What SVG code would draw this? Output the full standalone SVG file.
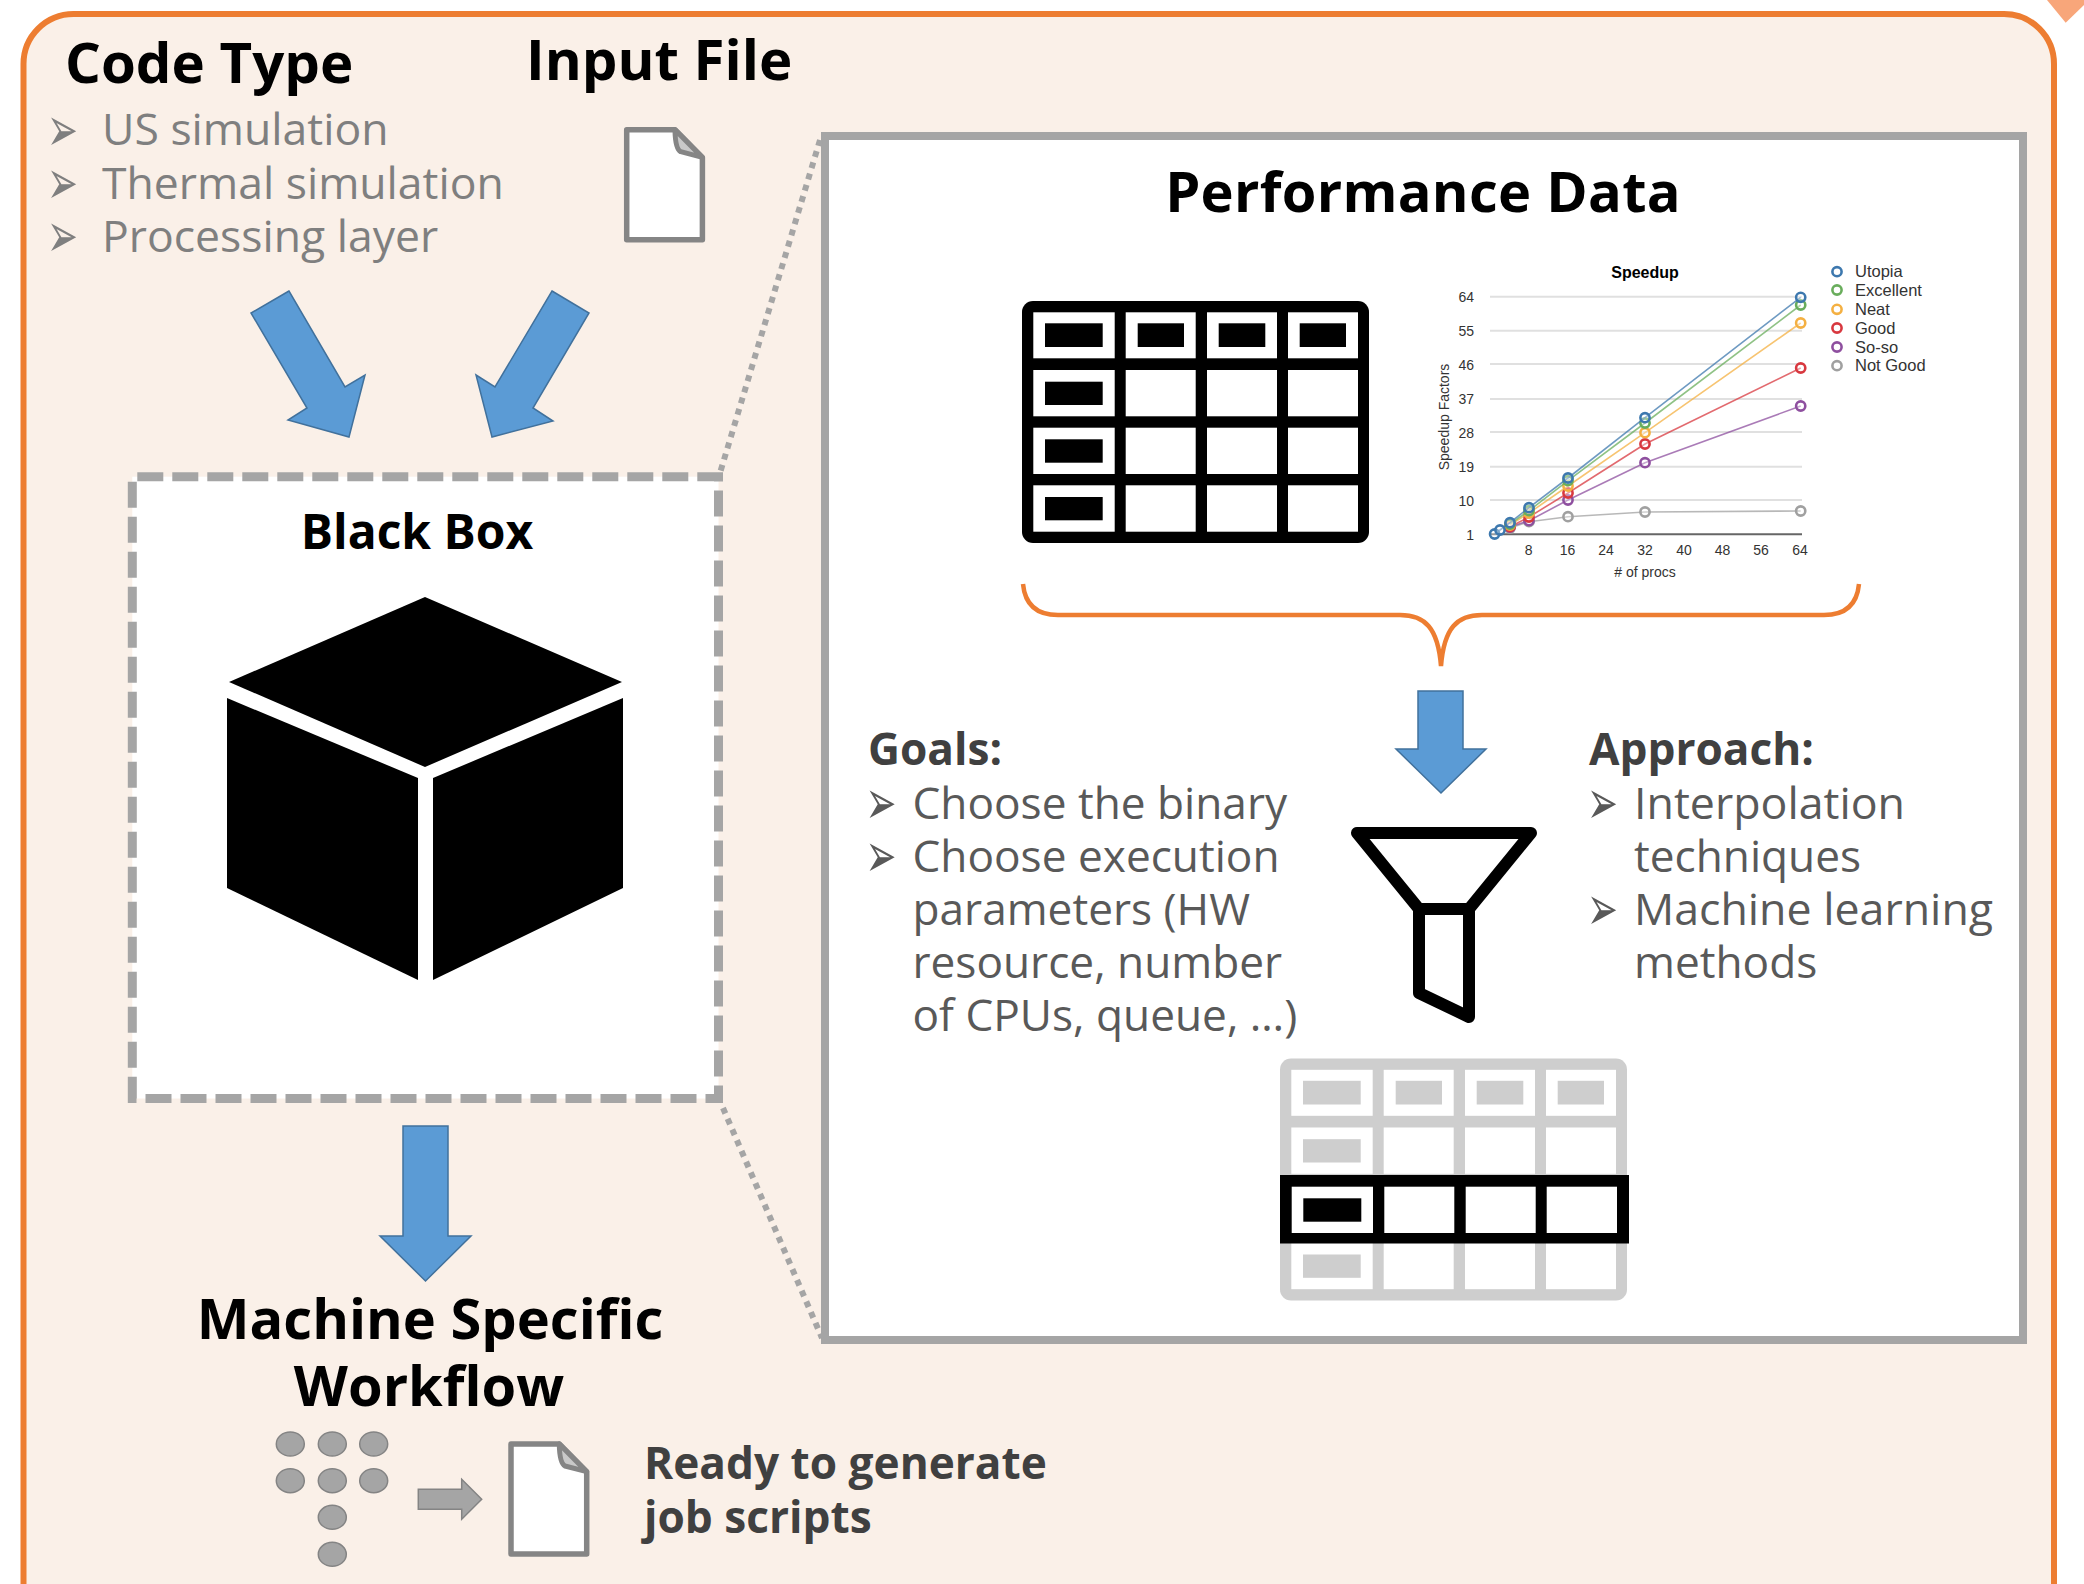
<svg xmlns="http://www.w3.org/2000/svg" xmlns:xlink="http://www.w3.org/1999/xlink" width="2084" height="1584" viewBox="0 0 2084 1584">
<style>
text{font-family:"Open Sans","Liberation Sans",sans-serif}
.h{font-weight:700;fill:#000}
.b{font-weight:700;fill:#404040;font-size:44.2px}
.g{fill:#7f7f7f;font-size:44.5px}
.d{fill:#595959;font-size:44.7px}
.e{fill:#595959;font-size:44.2px}
.bul{font-family:"DejaVu Sans",sans-serif;font-size:37px}
.arrow{fill:#5b9bd5;stroke:#41719c;stroke-width:1.5}
.dot{fill:none;stroke:#a5a5a5;stroke-width:6;stroke-dasharray:6 5.7}
.c text{font-family:"Liberation Sans",Arial,sans-serif;fill:#333}
.grid{stroke:#e0e0e0;stroke-width:2}
.ser{fill:none;stroke-width:1.6;stroke-opacity:.75}
.pt{fill:#fff;fill-opacity:.35;stroke-width:2.6}
</style>
<defs>
<g id="tableCells">
<rect x="1033.3" y="312.3" width="81.4" height="46"/><rect x="1125.7" y="312.3" width="70" height="46"/><rect x="1207" y="312.3" width="70" height="46"/><rect x="1288" y="312.3" width="70" height="46"/>
<rect x="1033.3" y="370" width="81.4" height="46.3"/><rect x="1125.7" y="370" width="70" height="46.3"/><rect x="1207" y="370" width="70" height="46.3"/><rect x="1288" y="370" width="70" height="46.3"/>
<rect x="1033.3" y="427.7" width="81.4" height="46.3"/><rect x="1125.7" y="427.7" width="70" height="46.3"/><rect x="1207" y="427.7" width="70" height="46.3"/><rect x="1288" y="427.7" width="70" height="46.3"/>
<rect x="1033.3" y="485.3" width="81.4" height="46.4"/><rect x="1125.7" y="485.3" width="70" height="46.4"/><rect x="1207" y="485.3" width="70" height="46.4"/><rect x="1288" y="485.3" width="70" height="46.4"/>
</g>
<g id="tableBars">
<rect x="1045" y="323.3" width="57.7" height="23.7"/><rect x="1137.7" y="323.3" width="46.3" height="23.7"/><rect x="1218.7" y="323.3" width="46.6" height="23.7"/><rect x="1299.7" y="323.3" width="46.3" height="23.7"/>
<rect x="1045" y="381.7" width="57.7" height="23.3"/><rect x="1045" y="439.3" width="57.7" height="23.4"/><rect x="1045" y="497" width="57.7" height="23.3"/>
</g>
<g id="fileIcon">
<path d="M511 1444H559.3L586.7 1471.7V1554H511Z" fill="#fff" stroke="#858585" stroke-width="5.5" stroke-linejoin="round"/>
<path d="M559.3 1444Q559.5 1463 565 1466L586.7 1471.7Z" fill="#c9c9c9" stroke="#858585" stroke-width="5" stroke-linejoin="round"/>
</g>
</defs>

<g id="outer-panel">
<rect x="23.5" y="14" width="2030.5" height="1640" rx="50" fill="#faf0e8" stroke="#ed7d31" stroke-width="6"/>
</g>
<polygon id="corner-mark" points="2047,0 2084,0 2084,5 2065.7,22.7" fill="#f8a67a"/>

<g id="code-type">
<text class="h" x="65" y="83" font-size="56.4">Code Type</text>
<text class="bul" transform="translate(47 151) scale(1 1.7)" fill="#7f7f7f">➢</text><text class="g" x="102" y="145">US simulation</text>
<text class="bul" transform="translate(47 204.3) scale(1 1.7)" fill="#7f7f7f">➢</text><text class="g" x="102" y="198.5">Thermal simulation</text>
<text class="bul" transform="translate(47 257) scale(1 1.7)" fill="#7f7f7f">➢</text><text class="g" x="102" y="252">Processing layer</text>
</g>

<g id="input-file">
<text class="h" x="526" y="80" font-size="56.4">Input File</text>
<use xlink:href="#fileIcon" href="#fileIcon" transform="translate(115.7 -1314.3)"/>
</g>

<g id="black-box">
<rect x="132.3" y="476.7" width="586.2" height="621.8" fill="#fff" stroke="#a5a5a5" stroke-width="9" stroke-dasharray="26 9" stroke-dashoffset="30"/>
<text class="h" x="417" y="549" font-size="48" text-anchor="middle">Black Box</text>
<polygon points="425,597 622,682 425,767 229,682" fill="#000"/>
<polygon points="227,698 418,778 418,980 227,888" fill="#000"/>
<polygon points="433,778 623,698 623,888 433,980" fill="#000"/>
</g>

<g id="performance-data">
<rect x="825" y="136" width="1198" height="1204" fill="#fff" stroke="#a5a5a5" stroke-width="8"/>
<text class="h" x="1423" y="212" font-size="56" text-anchor="middle" letter-spacing="0.3">Performance Data</text>
</g>

<g id="table-full">
<rect x="1022" y="301" width="347" height="242" rx="11" fill="#000"/>
<use xlink:href="#tableCells" href="#tableCells" fill="#fff"/>
<use xlink:href="#tableBars" href="#tableBars" fill="#000"/>
</g>

<g id="speedup-chart" class="c">
<line class="grid" x1="1490" y1="296.7" x2="1802" y2="296.7"/><line class="grid" x1="1490" y1="330.7" x2="1802" y2="330.7"/><line class="grid" x1="1490" y1="364" x2="1802" y2="364"/><line class="grid" x1="1490" y1="399" x2="1802" y2="399"/><line class="grid" x1="1490" y1="432" x2="1802" y2="432"/><line class="grid" x1="1490" y1="466.7" x2="1802" y2="466.7"/><line class="grid" x1="1490" y1="500" x2="1802" y2="500"/>
<line x1="1490" y1="534.3" x2="1802" y2="534.3" stroke="#666" stroke-width="2"/>
<text x="1645" y="278" font-size="16" font-weight="700" text-anchor="middle" style="fill:#000">Speedup</text>
<g font-size="14" text-anchor="end">
<text x="1474" y="302">64</text><text x="1474" y="336">55</text><text x="1474" y="370">46</text><text x="1474" y="404">37</text><text x="1474" y="438">28</text><text x="1474" y="472">19</text><text x="1474" y="506">10</text><text x="1474" y="540">1</text>
</g>
<g font-size="14" text-anchor="middle">
<text x="1528.6" y="555">8</text><text x="1567.5" y="555">16</text><text x="1606" y="555">24</text><text x="1645" y="555">32</text><text x="1684" y="555">40</text><text x="1722.5" y="555">48</text><text x="1761" y="555">56</text><text x="1800" y="555">64</text>
<text x="1645" y="577">&#35; of procs</text>
<text transform="translate(1449 417) rotate(-90)">Speedup Factors</text>
</g>
<g stroke="#a0a0a0"><polyline class="ser" points="1510,528 1529,521.7 1568,516.7 1645,512 1800.7,511"/><circle class="pt" cx="1510" cy="528" r="4.6"/><circle class="pt" cx="1529" cy="521.7" r="4.6"/><circle class="pt" cx="1568" cy="516.7" r="4.6"/><circle class="pt" cx="1645" cy="512" r="4.6"/><circle class="pt" cx="1800.7" cy="511" r="4.6"/></g>
<g stroke="#8e4f9f"><polyline class="ser" points="1510,527 1529,520.7 1568,500 1645,462.7 1800.7,406"/><circle class="pt" cx="1510" cy="527" r="4.6"/><circle class="pt" cx="1529" cy="520.7" r="4.6"/><circle class="pt" cx="1568" cy="500" r="4.6"/><circle class="pt" cx="1645" cy="462.7" r="4.6"/><circle class="pt" cx="1800.7" cy="406" r="4.6"/></g>
<g stroke="#d8383f"><polyline class="ser" points="1510,526.7 1529,517 1568,493 1645,444 1800.7,368"/><circle class="pt" cx="1510" cy="526.7" r="4.6"/><circle class="pt" cx="1529" cy="517" r="4.6"/><circle class="pt" cx="1568" cy="493" r="4.6"/><circle class="pt" cx="1645" cy="444" r="4.6"/><circle class="pt" cx="1800.7" cy="368" r="4.6"/></g>
<g stroke="#f4b042"><polyline class="ser" points="1510,525 1529,513 1568,486 1645,432.7 1800.7,323"/><circle class="pt" cx="1510" cy="525" r="4.6"/><circle class="pt" cx="1529" cy="513" r="4.6"/><circle class="pt" cx="1568" cy="486" r="4.6"/><circle class="pt" cx="1645" cy="432.7" r="4.6"/><circle class="pt" cx="1800.7" cy="323" r="4.6"/></g>
<g stroke="#69ad5c"><polyline class="ser" points="1510,524 1529,510.7 1568,480.7 1645,423 1800.7,305"/><circle class="pt" cx="1510" cy="524" r="4.6"/><circle class="pt" cx="1529" cy="510.7" r="4.6"/><circle class="pt" cx="1568" cy="480.7" r="4.6"/><circle class="pt" cx="1645" cy="423" r="4.6"/><circle class="pt" cx="1800.7" cy="305" r="4.6"/></g>
<g stroke="#3d78ae"><polyline class="ser" points="1494.6,534 1500,530 1510,522.7 1529,507.7 1568,478 1645,417.7 1800.7,297.3"/><circle class="pt" cx="1494.6" cy="534" r="4.6"/><circle class="pt" cx="1500" cy="530" r="4.6"/><circle class="pt" cx="1510" cy="522.7" r="4.6"/><circle class="pt" cx="1529" cy="507.7" r="4.6"/><circle class="pt" cx="1568" cy="478" r="4.6"/><circle class="pt" cx="1645" cy="417.7" r="4.6"/><circle class="pt" cx="1800.7" cy="297.3" r="4.6"/></g>
<circle class="pt" cx="1837" cy="271.7" r="4.6" stroke="#3d78ae"/><circle class="pt" cx="1837" cy="290" r="4.6" stroke="#69ad5c"/><circle class="pt" cx="1837" cy="309.3" r="4.6" stroke="#f4b042"/><circle class="pt" cx="1837" cy="328" r="4.6" stroke="#d8383f"/><circle class="pt" cx="1837" cy="347" r="4.6" stroke="#8e4f9f"/><circle class="pt" cx="1837" cy="365.7" r="4.6" stroke="#a0a0a0"/>
<g font-size="16.5">
<text x="1855" y="277">Utopia</text><text x="1855" y="296">Excellent</text><text x="1855" y="315">Neat</text><text x="1855" y="334">Good</text><text x="1855" y="353">So-so</text><text x="1855" y="371">Not Good</text>
</g>
</g>

<g id="goals">
<text class="b" x="868" y="765">Goals:</text>
<text class="bul" transform="translate(865.5 824) scale(1 1.7)" fill="#595959">➢</text><text class="e" x="912.5" y="818.5">Choose the binary</text>
<text class="bul" transform="translate(865.5 877) scale(1 1.7)" fill="#595959">➢</text><text class="e" x="912.5" y="871.5">Choose execution</text>
<text class="e" x="912.5" y="924.5">parameters (HW</text>
<text class="e" x="912.5" y="977.5">resource, number</text>
<text class="e" x="912.5" y="1031">of CPUs, queue, …)</text>
</g>

<g id="approach">
<text class="b" x="1589" y="765">Approach:</text>
<text class="bul" transform="translate(1587 824) scale(1 1.7)" fill="#595959">➢</text><text class="d" x="1634" y="818.5">Interpolation</text>
<text class="e" x="1634" y="871.5">techniques</text>
<text class="bul" transform="translate(1587 930) scale(1 1.7)" fill="#595959">➢</text><text class="d" x="1634" y="924.5">Machine learning</text>
<text class="e" x="1634" y="977.5">methods</text>
</g>

<g id="funnel">
<path d="M1357 833H1531L1469 909V1017L1419 993V909Z M1419 909H1469" fill="#fff" stroke="#000" stroke-width="12" stroke-linejoin="round"/>
</g>

<g id="table-filtered">
<g transform="translate(258 757.5)">
<rect x="1022" y="301" width="347" height="242" rx="11" fill="#cecece"/>
<use xlink:href="#tableCells" href="#tableCells" fill="#fff"/>
<use xlink:href="#tableBars" href="#tableBars" fill="#cecece"/>
</g>
<rect x="1280" y="1175" width="349" height="68.5" fill="#000"/>
<rect x="1291.7" y="1186.7" width="81.3" height="46.3" fill="#fff"/><rect x="1384.3" y="1186.7" width="70" height="46.3" fill="#fff"/><rect x="1465.7" y="1186.7" width="70" height="46.3" fill="#fff"/><rect x="1546.7" y="1186.7" width="70.3" height="46.3" fill="#fff"/>
<rect x="1303.3" y="1198.3" width="58" height="23.4" fill="#000"/>
</g>

<g id="machine-workflow">
<text class="h" x="430" y="1339" font-size="56" text-anchor="middle">Machine Specific</text>
<text class="h" x="429" y="1406" font-size="56" text-anchor="middle">Workflow</text>
<g fill="#a5a5a5" stroke="#848484" stroke-width="1.5">
<ellipse cx="290.3" cy="1444" rx="14" ry="12"/><ellipse cx="332.3" cy="1444" rx="14" ry="12"/><ellipse cx="373.7" cy="1444" rx="14" ry="12"/>
<ellipse cx="290.3" cy="1480.7" rx="14" ry="12"/><ellipse cx="332.3" cy="1480.7" rx="14" ry="12"/><ellipse cx="373.7" cy="1480.7" rx="14" ry="12"/>
<ellipse cx="332.3" cy="1517.3" rx="14" ry="12"/><ellipse cx="332.3" cy="1554.3" rx="14" ry="12"/>
</g>
<polygon points="418.3,1489.3 461.7,1489.3 461.7,1479.3 481.7,1499.3 461.7,1519.3 461.7,1509.3 418.3,1509.3" fill="#a5a5a5" stroke="#848484" stroke-width="1.5"/>
<use xlink:href="#fileIcon" href="#fileIcon"/>
<text class="b" x="644" y="1479">Ready to generate</text>
<text class="b" x="644" y="1533">job scripts</text>
</g>

<g id="connectors">
<polygon class="arrow" points="289,291 251,313 307,408 288,420 349,437 365,375 345,387"/>
<polygon class="arrow" points="552,291 589,313 533,408 553,421 492,437 476,375 495,387"/>
<polygon class="arrow" points="403,1126 448,1126 448,1236 471,1236 425.5,1281 380,1236 403,1236"/>
<polygon class="arrow" points="1418,691 1463,691 1463,749 1486,749 1441,793 1396,749 1418,749"/>
<line class="dot" x1="820" y1="140" x2="720" y2="473"/>
<line class="dot" x1="723" y1="1108" x2="822" y2="1338"/>
<path d="M1023 584C1025 605 1037 615 1058 615H1400C1425 615 1438 628 1441 666C1444 628 1457 615 1482 615H1824C1845 615 1857 605 1859 584" fill="none" stroke="#ed7d31" stroke-width="4.5"/>
</g>
</svg>
